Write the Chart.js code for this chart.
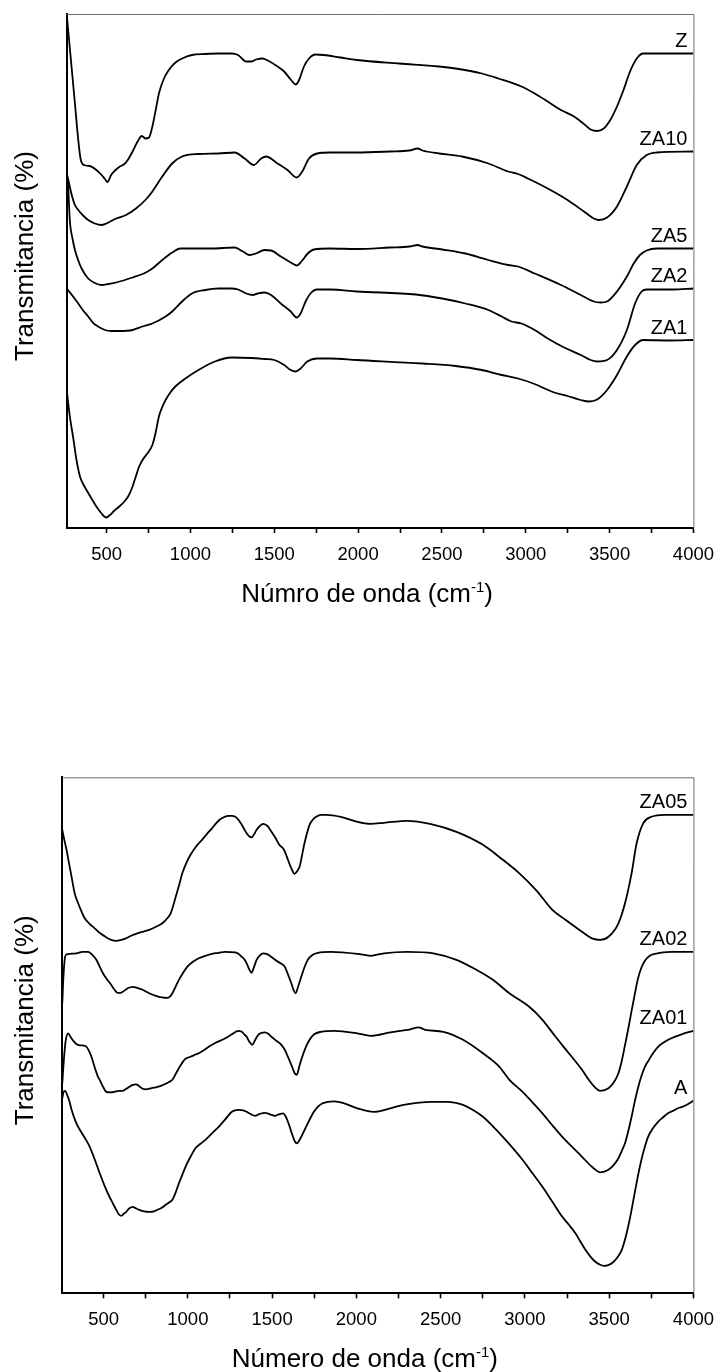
<!DOCTYPE html>
<html lang="es">
<head>
  <meta charset="UTF-8">
  <title>Espectros FTIR</title>
  <script src="https://cdn.jsdelivr.net/npm/chart.js"></script>
  <style>
    body {
      margin: 0;
      background: #ffffff;
      width: 725px;
      height: 1372px;
      position: relative;
      overflow: hidden;
    }
    canvas { position: absolute; left: 0; }
    #topChart { top: 0; width: 725px; height: 640px; }
    #bottomChart { top: 640px; width: 725px; height: 732px; }
  </style>
</head>
<body>
  <canvas id="topChart" width="725" height="640"></canvas>
  <canvas id="bottomChart" width="725" height="732"></canvas>
  <script>
    // Wavenumber axis: tick marks every 250, numbers every 500
    const xTickValues = [500, 750, 1000, 1250, 1500, 1750, 2000, 2250, 2500, 2750, 3000, 3250, 3500, 3750, 4000];
    const xTickLabels = [500, 1000, 1500, 2000, 2500, 3000, 3500, 4000];

    // Spectra as [wavenumber (cm-1), transmittance (a.u., offset per sample)]
    const Z = [[262,102.8],[285,94.4],[310,85.3],[331,77.6],[345,73.8],[365,72.6],[400,72.4],[439,71.6],[470,70.6],[490,69.8],[505,69.2],[527,70.6],[547,71.4],[575,72.2],[606,72.8],[626,73.6],[655,75.3],[685,77.3],[710,78.4],[733,77.9],[753,78.1],[773,80.3],[793,83.6],[812,86.9],[842,89.9],[871,91.6],[911,93.1],[950,93.9],[1009,94.6],[1088,94.8],[1166,94.9],[1245,94.9],[1284,94.6],[1333,93.3],[1363,93.3],[1392,93.7],[1431,93.9],[1461,93.5],[1520,92.3],[1559,91.3],[1598,89.7],[1628,88.7],[1648,89.6],[1677,92.3],[1707,93.9],[1746,94.7],[1795,94.6],[1893,94.1],[1991,93.6],[2247,92.9],[2483,92.3],[2581,91.9],[2738,90.9],[2836,89.9],[2974,88.3],[3053,86.9],[3131,85.3],[3210,83.6],[3288,82.3],[3347,80.8],[3387,79.7],[3426,79.4],[3465,79.9],[3504,81.6],[3544,84.3],[3583,87.6],[3622,91.3],[3662,93.9],[3701,94.9],[3760,94.9],[4000,94.9]];
    const ZA10 = [[262,71],[277,68.8],[292,66.6],[311,64.6],[331,63.6],[360,62.5],[390,61.6],[430,60.9],[469,60.6],[498,60.9],[527,61.4],[557,61.9],[616,62.6],[675,63.9],[734,65.7],[773,67.3],[832,70.3],[891,72.9],[950,74.3],[1048,74.8],[1166,74.9],[1264,75.1],[1323,73.9],[1378,72.6],[1422,73.9],[1451,74.3],[1520,72.9],[1579,71.6],[1634,70.1],[1667,71.3],[1707,73.9],[1756,74.9],[1834,75.1],[1991,75.1],[2188,75.3],[2306,75.5],[2355,75.9],[2384,75.5],[2483,74.9],[2620,74.3],[2777,72.9],[2895,71.3],[2954,70.8],[3013,69.9],[3131,67.9],[3249,65.6],[3347,63.3],[3406,61.9],[3436,61.6],[3485,62.1],[3544,64.3],[3603,68.3],[3662,72.6],[3721,74.6],[3780,75.1],[4000,75.3]];
    const ZA5 = [[262,70],[270,68.9],[276,64.5],[282,60.9],[296,58],[311,55.6],[330,53.6],[351,51.9],[390,49.9],[430,49],[469,48.6],[510,48.8],[557,49.1],[655,50.1],[734,51.1],[773,51.9],[832,53.6],[891,55.1],[940,55.9],[1009,55.9],[1127,55.9],[1264,56.1],[1313,55.3],[1353,54.6],[1392,54.9],[1441,55.6],[1481,55.5],[1539,54.3],[1598,53.1],[1634,52.5],[1667,53.5],[1697,54.8],[1736,55.7],[1834,55.9],[1991,55.8],[2188,56.1],[2306,56.3],[2355,56.6],[2384,56.3],[2502,55.7],[2640,54.9],[2777,53.6],[2895,52.6],[2954,52.3],[3053,50.9],[3210,48.6],[3328,46.6],[3406,45.3],[3446,45.1],[3485,45.3],[3544,47.3],[3603,50.3],[3642,52.8],[3681,54.6],[3721,55.5],[3780,55.9],[4000,55.9]];
    const ZA2 = [[262,48],[270,47.6],[300,46.3],[331,44.9],[360,43.5],[390,42.3],[420,41],[449,40.3],[490,39.6],[528,39.4],[577,39.4],[655,39.6],[714,40.3],[773,40.9],[852,42.3],[891,43.3],[950,45.3],[1009,46.9],[1088,47.6],[1166,47.9],[1245,47.9],[1284,47.7],[1333,46.9],[1372,46.6],[1402,46.9],[1441,47.1],[1481,46.6],[1539,44.9],[1598,43.3],[1634,42.1],[1657,42.9],[1687,45.3],[1716,46.9],[1755,47.7],[1834,47.7],[1991,47.3],[2345,46.7],[2502,45.9],[2640,44.9],[2777,43.6],[2856,42.3],[2915,41.3],[2974,40.9],[3053,39.6],[3131,37.9],[3229,36.1],[3328,34.6],[3387,33.6],[3426,33.3],[3485,33.6],[3544,35.6],[3603,39.6],[3652,44.9],[3691,47.3],[3721,47.7],[3878,47.7],[4000,47.9]];
    const ZA1 = [[262,27.6],[280,22.5],[301,18],[321,13.5],[341,10.3],[360,8.8],[380,7.6],[410,5.9],[439,4.3],[470,2.9],[498,2.1],[520,2.6],[547,3.5],[576,4.3],[606,5.3],[630,6.4],[655,8.3],[675,10.4],[694,12.3],[720,13.9],[743,14.9],[773,16.6],[792,19],[812,22.3],[832,24.2],[852,25.6],[880,27.1],[910,28.3],[970,29.9],[1048,31.6],[1146,33.3],[1245,34.1],[1363,34],[1441,33.8],[1500,33.6],[1559,32.6],[1598,31.6],[1628,31.3],[1657,31.9],[1697,33.3],[1755,33.9],[1834,33.9],[1991,33.6],[2384,32.9],[2581,32.4],[2738,31.6],[2856,30.6],[2954,29.9],[3053,28.8],[3170,27.1],[3249,26.4],[3328,25.6],[3377,25.3],[3426,25.7],[3485,27.6],[3544,30.6],[3603,34.3],[3652,36.6],[3701,37.6],[3858,37.5],[4000,37.6]];

    const ZA05 = [[255,92.7],[265,91],[280,88.7],[295,86],[310,83.3],[330,79.8],[349,78],[370,76.3],[388,75],[420,73.8],[447,73],[480,72],[516,71.2],[545,70.7],[575,70.5],[605,70.7],[633,71],[662,71.5],[692,71.9],[730,72.3],[771,72.7],[810,73.3],[849,74],[878,75],[898,76],[913,77.5],[928,79.3],[947,81.5],[967,84],[990,86],[1016,87.7],[1050,89.4],[1084,90.7],[1114,91.9],[1143,93],[1170,94.1],[1192,94.8],[1218,95.3],[1241,95.5],[1261,95.5],[1281,95.3],[1300,94.7],[1320,93.7],[1335,92.8],[1349,92],[1364,91.4],[1378,91.2],[1393,91.8],[1408,92.7],[1428,93.5],[1447,93.9],[1462,93.7],[1477,93.3],[1496,92.3],[1516,91.3],[1545,89.6],[1565,89],[1580,88],[1594,86.7],[1614,85],[1634,83.9],[1648,84.4],[1663,85.3],[1677,87.5],[1692,90],[1707,92],[1722,93.7],[1741,94.7],[1761,95.3],[1790,95.7],[1820,95.7],[1908,95.3],[2006,94.3],[2084,93.9],[2163,94.1],[2300,94.5],[2437,93.9],[2594,92.3],[2751,89.7],[2869,86.7],[2967,84],[3065,80.7],[3163,76.7],[3241,74.7],[3339,72.3],[3398,71],[3447,70.7],[3496,71.3],[3555,74],[3594,78],[3633,84],[3663,90],[3702,94],[3751,95.3],[3830,95.7],[4000,95.7]];
    const ZA02 = [[255,58],[262,63.5],[270,67],[277,67.7],[300,67.9],[339,68],[375,68.3],[408,68.3],[430,67.8],[457,66.7],[476,65.4],[496,64],[520,62.8],[545,61.7],[565,60.7],[584,60.1],[600,60.1],[614,60.3],[643,61],[673,61.3],[700,61.1],[732,60.7],[770,60],[810,59.5],[845,59.2],[879,59.1],[895,59.4],[908,60],[927,61.3],[947,62.7],[970,64],[996,65.3],[1030,66.3],[1065,67],[1104,67.5],[1143,67.9],[1183,68.1],[1222,68.3],[1281,68.2],[1300,67.9],[1320,67.3],[1335,66.8],[1349,66],[1364,64.8],[1378,64.1],[1393,65.3],[1408,66.7],[1428,67.6],[1447,68],[1467,67.9],[1486,67.5],[1510,66.9],[1535,66.3],[1555,65.9],[1575,65.3],[1594,63.8],[1614,62],[1627,60.7],[1639,60],[1656,61.5],[1673,63.3],[1692,65.2],[1712,66.7],[1741,67.7],[1771,68.1],[1849,68.3],[2006,67.9],[2084,67.5],[2163,68],[2300,68.3],[2457,68],[2594,66.7],[2712,64.7],[2810,62.7],[2908,60],[2967,58.7],[3026,57.3],[3104,54.7],[3182,51.3],[3261,48],[3339,44.7],[3379,42.7],[3413,41.3],[3447,40.5],[3496,41],[3530,42.3],[3555,44],[3575,46.5],[3595,49.8],[3614,53],[3633,56.5],[3653,60],[3670,62.8],[3690,65],[3712,66.5],[3741,67.5],[3771,67.9],[3869,68.3],[4000,68.3]];
    const ZA01 = [[255,42],[265,47],[275,50.5],[290,52],[305,51.2],[320,50.5],[340,49.8],[359,49.6],[395,49.4],[413,48.5],[428,47.3],[447,45.2],[467,43.3],[477,42.7],[497,41.3],[516,40.3],[540,40.2],[565,40.3],[590,40.5],[614,40.5],[635,40.9],[653,41.3],[673,41.7],[692,41.8],[712,41.4],[732,40.9],[751,40.8],[780,41],[810,41.2],[840,41.5],[869,41.9],[890,42.3],[908,42.7],[930,44],[957,45.6],[986,46.9],[1016,47.3],[1040,47.7],[1065,48],[1095,48.6],[1124,49.3],[1160,50],[1222,51],[1261,51.8],[1300,52.5],[1320,52.3],[1335,51.8],[1349,51.3],[1365,50.3],[1382,49.7],[1400,50.7],[1418,51.7],[1437,52.1],[1457,52.2],[1477,51.9],[1496,51.3],[1525,50.5],[1555,49.7],[1575,48.7],[1594,47.3],[1614,45.7],[1634,44],[1647,43.7],[1660,45.2],[1673,46.7],[1697,49],[1722,50.7],[1750,51.8],[1790,52.3],[1869,52.5],[2006,52],[2084,51.5],[2202,52.2],[2320,52.8],[2369,53.2],[2408,52.7],[2516,52.3],[2633,50.7],[2751,48],[2849,45.3],[2908,42.7],[2986,40.3],[3045,38.2],[3104,36],[3163,33.6],[3222,31.3],[3280,29.3],[3339,27.3],[3398,25.3],[3447,24.2],[3496,24.7],[3530,25.8],[3555,27],[3575,28.5],[3594,30],[3614,32.5],[3633,35.3],[3653,38.5],[3673,41.3],[3692,43.5],[3712,45.3],[3731,46.4],[3760,48],[3790,49.3],[3830,50.3],[3869,51],[3930,51.8],[4000,52.5]];
    const A = [[255,39],[262,40.2],[271,40.5],[285,39.6],[298,38.3],[310,36.7],[335,34.3],[359,32.7],[390,31],[418,29.3],[447,26.8],[477,24],[506,21.5],[535,19.3],[555,18],[575,16.7],[590,15.8],[604,15.5],[620,15.9],[634,16.3],[653,17],[673,17.3],[692,17],[712,16.7],[741,16.4],[771,16.3],[800,16.4],[820,16.7],[845,17.1],[869,17.7],[890,18.2],[908,18.7],[928,20.2],[947,22],[967,23.7],[986,25.3],[1016,27.3],[1045,29],[1075,29.9],[1104,30.7],[1143,32],[1183,33.3],[1222,34.8],[1261,36.3],[1300,36.7],[1330,36.6],[1349,36.3],[1375,35.8],[1398,35.5],[1428,35.9],[1457,36.1],[1487,35.8],[1516,35.5],[1540,35.8],[1565,36],[1580,35.4],[1594,34.3],[1610,32.7],[1624,31.3],[1636,30.3],[1647,30],[1660,30.5],[1673,31.3],[1697,33],[1722,34.7],[1746,36.2],[1771,37.3],[1800,38],[1830,38.3],[1869,38.4],[1928,38],[2006,37],[2104,36.3],[2202,37],[2280,37.7],[2359,38.1],[2450,38.3],[2535,38.3],[2590,38.1],[2633,37.7],[2690,36.7],[2751,35.3],[2810,33.4],[2869,31.3],[2930,29],[2986,26.7],[3045,24],[3104,21.3],[3163,18.3],[3222,15.3],[3261,13.7],[3300,12],[3330,10.3],[3359,8.7],[3390,7.3],[3418,6.3],[3447,5.7],[3467,5.5],[3490,5.6],[3516,6],[3545,7],[3575,8.7],[3600,11.5],[3617,14],[3633,16.7],[3660,21.6],[3682,25.3],[3705,28.5],[3731,31.3],[3760,33],[3790,34.3],[3820,35.2],[3849,36],[3880,36.5],[3908,37],[3950,37.5],[4000,38.5]];

    const FONT = "'Liberation Sans', Arial, sans-serif";
    Chart.defaults.font.family = FONT;
    Chart.defaults.color = '#000';

    // Frame, axis titles and curve names (Origin style)
    const frame = {
      id: 'ftirFrame',
      afterDraw(chart, args, opts) {
        const { ctx, chartArea: a } = chart;
        ctx.save();
        ctx.strokeStyle = '#6e6e6e';
        ctx.lineWidth = 1;
        ctx.beginPath();
        ctx.moveTo(a.left, a.top + 0.5);
        ctx.lineTo(a.right + 0.5, a.top + 0.5);
        ctx.lineTo(a.right + 0.5, a.bottom);
        ctx.stroke();

        // curve names, just above the end of each trace
        ctx.fillStyle = '#000';
        ctx.font = '20px ' + FONT;
        ctx.textAlign = 'right';
        ctx.textBaseline = 'middle';
        chart.data.datasets.forEach(ds => {
          const last = ds.data[ds.data.length - 1];
          ctx.fillText(ds.label, a.right - 6, chart.scales.y.getPixelForValue(last.y) - 12);
        });

        // x title with superscript
        ctx.textBaseline = 'alphabetic';
        ctx.textAlign = 'left';
        const big = '26px ' + FONT, small = '15px ' + FONT;
        ctx.font = big;
        const w1 = ctx.measureText(opts.xTitle).width;
        const w3 = ctx.measureText(')').width;
        ctx.font = small;
        const w2 = ctx.measureText('-1').width;
        const base = a.bottom + 74;
        let x = (a.left + a.right) / 2 - 13 - (w1 + w2 + w3) / 2;
        ctx.font = big;
        ctx.fillText(opts.xTitle, x, base);
        x += w1;
        ctx.font = small;
        ctx.fillText('-1', x, base - 10);
        x += w2;
        ctx.font = big;
        ctx.fillText(')', x, base);

        // y title
        ctx.translate(33, (a.top + a.bottom) / 2 - 15);
        ctx.rotate(-Math.PI / 2);
        ctx.textAlign = 'center';
        ctx.fillText('Transmitancia (%)', 0, 0);
        ctx.restore();
      }
    };

    function spectrumChart(id, series, xMin, yMax, pad, yAxisWidth, xAxisHeight, xTitle) {
      return new Chart(document.getElementById(id), {
        type: 'line',
        data: {
          datasets: series.map(([label, pts]) => ({
            label,
            data: pts.map(([x, y]) => ({ x, y })),
            borderColor: '#000',
            borderWidth: 1.8,
            pointRadius: 0,
            cubicInterpolationMode: 'monotone',
            fill: false
          }))
        },
        options: {
          responsive: false,
          animation: false,
          events: [],
          layout: { padding: pad },
          scales: {
            x: {
              type: 'linear',
              min: xMin,
              max: 4000,
              afterFit: s => { s.height = xAxisHeight; },
              afterBuildTicks: s => { s.ticks = xTickValues.map(value => ({ value })); },
              ticks: {
                autoSkip: false,
                maxRotation: 0,
                padding: 11,
                color: '#000',
                font: { size: 18.5 },
                callback: v => (xTickLabels.includes(v) ? String(v) : '')
              },
              grid: { drawOnChartArea: false, drawTicks: true, tickLength: 5, tickColor: '#000', tickWidth: 1.6 },
              border: { color: '#000', width: 2 }
            },
            y: {
              min: 0,
              max: yMax,
              afterFit: s => { s.width = yAxisWidth; },
              ticks: { display: false },
              grid: { display: false },
              border: { color: '#000', width: 2 }
            }
          },
          plugins: {
            legend: { display: false },
            tooltip: { enabled: false },
            ftirFrame: { xTitle }
          }
        },
        plugins: [frame]
      });
    }

    spectrumChart('topChart',
      [['Z', Z], ['ZA10', ZA10], ['ZA5', ZA5], ['ZA2', ZA2], ['ZA1', ZA1]],
      262, 102.8, { top: 14, right: 24.4, left: 0, bottom: 0 }, 66.7, 112, 'Númro de onda (cm');

    spectrumChart('bottomChart',
      [['ZA05', ZA05], ['ZA02', ZA02], ['ZA01', ZA01], ['A', A]],
      255, 103.2, { top: 137.3, right: 26, left: 0, bottom: 0 }, 62.3, 78.7, 'Número de onda (cm');
  </script>
</body>
</html>
